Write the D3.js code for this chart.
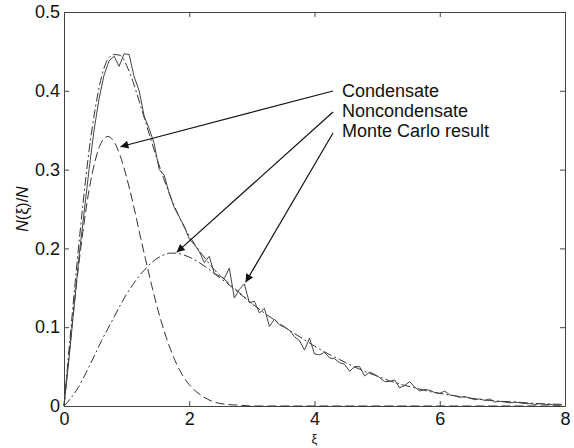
<!DOCTYPE html>
<html>
<head>
<meta charset="utf-8">
<script src="https://cdn.jsdelivr.net/npm/d3@7"></script>
<style>
  body { margin: 0; background: #fff; }
  text { font-family: "Liberation Sans", Arial, sans-serif; fill: #111; }
</style>
</head>
<body>
<script>
var width = 574,
    height = 448;

var margin = {top: 12, right: 8, bottom: 42, left: 64};

// condensate (dashed)
var condXi  = [0, 0.1, 0.2, 0.3, 0.4, 0.5, 0.6, 0.7, 0.8, 0.9, 1.0, 1.1, 1.2, 1.3, 1.4, 1.5,
               1.6, 1.7, 1.8, 1.9, 2.0, 2.2, 2.4, 2.6, 2.8, 3.0, 4.0, 6.0, 8.0];
var condVal = [0, 0.080, 0.155, 0.220, 0.274, 0.312, 0.335, 0.342, 0.335, 0.317, 0.290, 0.258,
               0.222, 0.187, 0.153, 0.122, 0.095, 0.072, 0.053, 0.038, 0.027, 0.013, 0.005,
               0.002, 0.001, 0, 0, 0, 0];

// noncondensate (dash-dot)
var noncXi  = [0, 0.1, 0.2, 0.3, 0.4, 0.5, 0.6, 0.7, 0.8, 0.9, 1.0, 1.1, 1.2, 1.3, 1.4, 1.5,
               1.6, 1.7, 1.8, 1.9, 2.0, 2.2, 2.4, 2.6, 2.8, 3.0, 3.2, 3.4, 3.6, 3.8, 4.0, 4.2,
               4.4, 4.6, 4.8, 5.0, 5.2, 5.4, 5.6, 5.8, 6.0, 6.4, 6.8, 7.2, 7.6, 8.0];
var noncVal = [0, 0.009, 0.020, 0.034, 0.050, 0.066, 0.083, 0.098, 0.113, 0.128, 0.142, 0.154,
               0.165, 0.174, 0.182, 0.188, 0.192, 0.194, 0.194, 0.192, 0.189, 0.180, 0.168,
               0.156, 0.143, 0.130, 0.118, 0.107, 0.096, 0.086, 0.076, 0.067, 0.059, 0.051,
               0.044, 0.038, 0.032, 0.027, 0.023, 0.019, 0.016, 0.011, 0.007, 0.005, 0.003, 0.002];

// total = condensate + noncondensate (dash-dot)
var totXi  = [0, 0.1, 0.2, 0.3, 0.4, 0.5, 0.6, 0.7, 0.8, 0.9, 1.0, 1.1, 1.2, 1.3, 1.4, 1.5,
              1.6, 1.7, 1.8, 1.9, 2.0, 2.2, 2.4, 2.6, 2.8, 3.0];
var totVal = [0, 0.089, 0.175, 0.254, 0.324, 0.378, 0.418, 0.440, 0.446, 0.445, 0.432, 0.412,
              0.387, 0.361, 0.335, 0.310, 0.287, 0.266, 0.247, 0.230, 0.216, 0.193, 0.173,
              0.158, 0.144, 0.130];

// Monte Carlo result, one value every 0.08 in xi
var mcStep = 0.08;
var mcVal = [0, 0.060, 0.125, 0.190, 0.245, 0.300, 0.350, 0.390, 0.420, 0.438,
             0.444, 0.431, 0.447, 0.446, 0.418, 0.400, 0.368, 0.352, 0.333, 0.300,
             0.293, 0.270, 0.252, 0.240, 0.228, 0.212, 0.205, 0.196, 0.182, 0.190,
             0.168, 0.165, 0.162, 0.175, 0.137, 0.148, 0.155, 0.131, 0.133, 0.118,
             0.124, 0.101, 0.110, 0.103, 0.100, 0.096, 0.088, 0.083, 0.071, 0.086,
             0.066, 0.065, 0.068, 0.061, 0.060, 0.055, 0.053, 0.044, 0.050, 0.050,
             0.038, 0.043, 0.040, 0.036, 0.031, 0.031, 0.033, 0.023, 0.026, 0.031,
             0.024, 0.019, 0.021, 0.020, 0.017, 0.016, 0.019, 0.014, 0.013, 0.011,
             0.012, 0.010, 0.008, 0.009, 0.007, 0.009, 0.005, 0.006, 0.005, 0.004,
             0.005, 0.004, 0.003, 0.003, 0.002, 0.003, 0.002, 0.002, 0.001, 0.001];

var xTicks = [0, 2, 4, 6, 8];
var yTicks = [0, 0.1, 0.2, 0.3, 0.4, 0.5];
var yTickLabels = ["0", "0.1", "0.2", "0.3", "0.4", "0.5"];

var labels = ["Condensate", "Noncondensate", "Monte Carlo result"];
// arrow targets, in data units
var arrowXi  = [0.90, 1.80, 2.90];
var arrowVal = [0.329, 0.195, 0.157];

var svg = d3.select("body").append("svg")
    .attr("width", width)
    .attr("height", height);

var defs = svg.append("defs");
defs.append("marker")
    .attr("id", "head")
    .attr("viewBox", "0 0 10 10")
    .attr("refX", 10).attr("refY", 5)
    .attr("markerWidth", 11).attr("markerHeight", 8)
    .attr("markerUnits", "userSpaceOnUse")
    .attr("orient", "auto")
  .append("path")
    .attr("d", "M0,0 L10,5 L0,10 z")
    .attr("fill", "#111");

var x = d3.scaleLinear().domain([0, 8]).range([margin.left, width - margin.right - 1]);
var y = d3.scaleLinear().domain([0, 0.5]).range([height - margin.bottom, margin.top]);

var plot = svg.append("g").attr("class", "plot");

// axes box with inward ticks
var tl = 5;
plot.append("g")
    .attr("transform", "translate(0," + y(0) + ")")
    .call(d3.axisBottom(x).tickValues(xTicks).tickSizeInner(-tl).tickSizeOuter(0).tickPadding(5))
    .call(g => g.selectAll("text").attr("font-size", 18).attr("dy", "0.75em"));
plot.append("g")
    .attr("transform", "translate(0," + y(0.5) + ")")
    .call(d3.axisTop(x).tickValues(xTicks).tickSizeInner(-tl).tickSizeOuter(0).tickFormat(""));
plot.append("g")
    .attr("transform", "translate(" + x(0) + ",0)")
    .call(d3.axisLeft(y).tickValues(yTicks).tickSizeInner(-tl).tickSizeOuter(0).tickPadding(4)
      .tickFormat((d, i) => yTickLabels[i]))
    .call(g => g.selectAll("text").attr("font-size", 18));
plot.append("g")
    .attr("transform", "translate(" + x(8) + ",0)")
    .call(d3.axisRight(y).tickValues(yTicks).tickSizeInner(-tl).tickSizeOuter(0).tickFormat(""));

plot.selectAll(".domain").attr("stroke", "#444");
plot.selectAll(".tick line").attr("stroke", "#444");
plot.selectAll(".tick text").attr("fill", "#111").attr("font-family", "Liberation Sans, Arial, sans-serif");

function makeLine(xs) {
  return d3.line()
    .x((d, i) => x(xs[i]))
    .y(d => y(d))
    .curve(d3.curveMonotoneX);
}

plot.append("path")
    .attr("d", makeLine(condXi)(condVal))
    .attr("fill", "none").attr("stroke", "#333").attr("stroke-width", 1)
    .attr("stroke-dasharray", "9,4");

plot.append("path")
    .attr("d", makeLine(noncXi)(noncVal))
    .attr("fill", "none").attr("stroke", "#333").attr("stroke-width", 1)
    .attr("stroke-dasharray", "9,3,2,3");

plot.append("path")
    .attr("d", makeLine(totXi)(totVal))
    .attr("fill", "none").attr("stroke", "#333").attr("stroke-width", 1)
    .attr("stroke-dasharray", "9,3,2,3");

var mcLine = d3.line()
    .x((d, i) => x(i * mcStep))
    .y(d => y(d));

plot.append("path")
    .attr("d", mcLine(mcVal))
    .attr("fill", "none").attr("stroke", "#444").attr("stroke-width", 1);

// annotations
var ann = svg.append("g").attr("class", "annotations");
ann.selectAll("line")
    .data(labels)
    .enter().append("line")
    .attr("x1", 333)
    .attr("y1", (d, i) => 91 + i * 21)
    .attr("x2", (d, i) => x(arrowXi[i]))
    .attr("y2", (d, i) => y(arrowVal[i]))
    .attr("stroke", "#111").attr("stroke-width", 1.2)
    .attr("marker-end", "url(#head)");

ann.selectAll("text")
    .data(labels)
    .enter().append("text")
    .attr("x", 342)
    .attr("y", (d, i) => 97 + i * 20)
    .attr("font-size", 18)
    .text(d => d);

// axis titles
svg.append("text")
    .attr("x", x(4))
    .attr("y", 443)
    .attr("text-anchor", "middle")
    .attr("font-size", 13)
    .text("ξ");

svg.append("text")
    .attr("transform", "translate(28," + y(0.25) + ") rotate(-90)")
    .attr("text-anchor", "middle")
    .attr("font-size", 16)
    .html('<tspan font-style="italic">N</tspan>(ξ)/<tspan font-style="italic">N</tspan>');
</script>
</body>
</html>
